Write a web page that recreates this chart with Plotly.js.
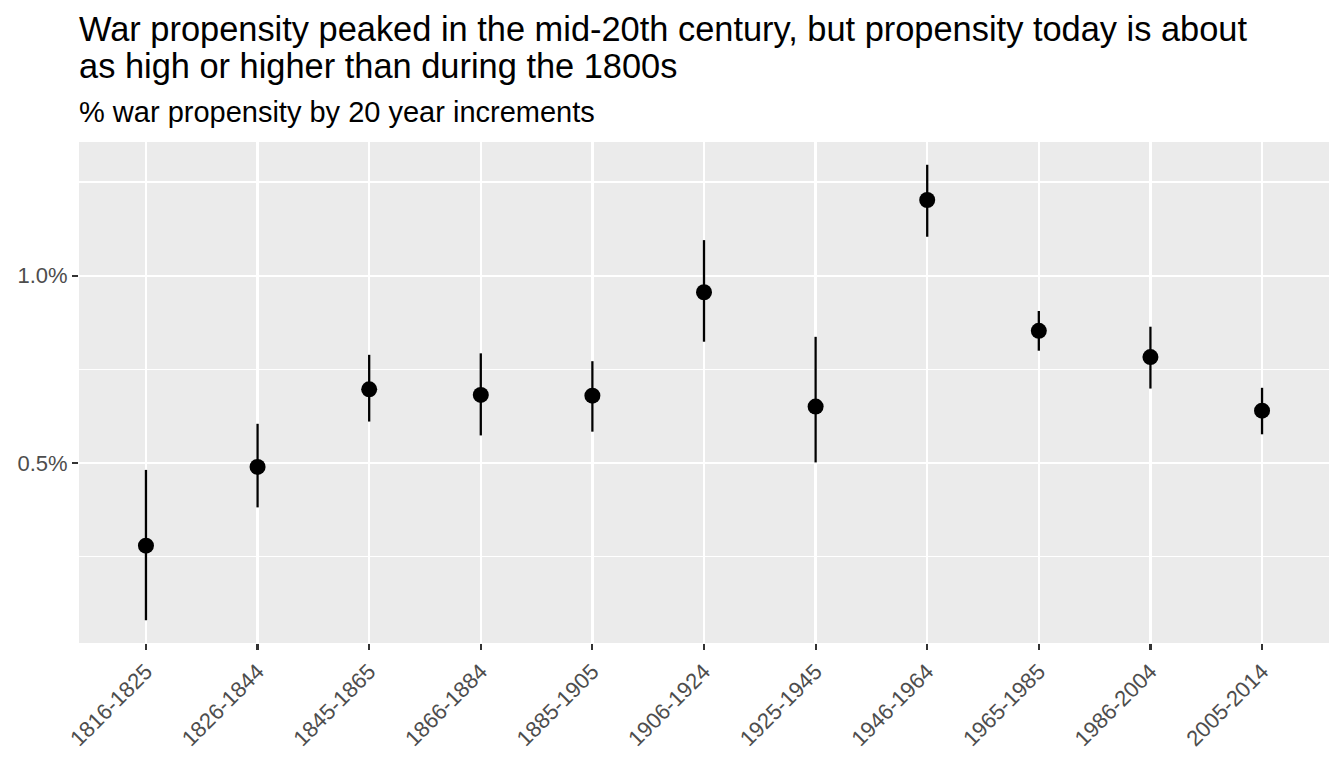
<!DOCTYPE html>
<html>
<head>
<meta charset="utf-8">
<script src="https://cdn.plot.ly/plotly-3.0.1.min.js"></script>
<style>
  html, body { margin: 0; padding: 0; background: #ffffff; }
  #chart { width: 1344px; height: 768px; }
</style>
</head>
<body>
<div id="chart"></div>
<script>
// ----------------------------- Data ------------------------------------------
var periods = ["1816-1825", "1826-1844", "1845-1865", "1866-1884", "1885-1905",
               "1906-1924", "1925-1945", "1946-1964", "1965-1985", "1986-2004",
               "2005-2014"];
// war propensity, in percent
var propensity = [0.280, 0.490, 0.697, 0.682, 0.680, 0.956, 0.651, 1.202, 0.853, 0.783, 0.640];
var lower      = [0.081, 0.382, 0.611, 0.574, 0.584, 0.824, 0.502, 1.104, 0.800, 0.699, 0.577];
var upper      = [0.482, 0.605, 0.789, 0.793, 0.772, 1.095, 0.837, 1.296, 0.906, 0.864, 0.701];
var yTicks = [0.5, 1.0];
var yMinor = [0.25, 0.75, 1.25];
var titleLines = ["War propensity peaked in the mid-20th century, but propensity today is about",
                  "as high or higher than during the 1800s"];
var subtitle = "% war propensity by 20 year increments";
// =============================================================================

var base = "'Liberation Sans', Arial, sans-serif";
var W = 1344, H = 768;
var M = { l: 79, r: 15, t: 142, b: 125 };
var plotH = H - M.t - M.b;

// pixel row (from top of page) -> paper y
function paperY(px) {
  return 1 + (M.t - px) / plotH;
}

// ggplot style 5% expansion of the y range
var lo = Math.min.apply(null, lower);
var hi = Math.max.apply(null, upper);
var pad = (hi - lo) * 0.05;

var errPlus = [], errMinus = [];
for (var i = 0; i < propensity.length; i++) {
  errPlus.push(upper[i] - propensity[i]);
  errMinus.push(propensity[i] - lower[i]);
}

var yText = yTicks.map(function (v) { return v.toFixed(1) + "%"; });

var data = [{
  x: periods,
  y: propensity,
  type: "scatter",
  mode: "markers",
  marker: { color: "#000000", size: 16 },
  error_y: {
    type: "data",
    symmetric: false,
    array: errPlus,
    arrayminus: errMinus,
    color: "#000000",
    thickness: 2.3,
    width: 0
  },
  showlegend: false,
  hoverinfo: "x+y"
}];

// ----------------------- Title and subtitle ----------------------------------
function textLine(txt, bottomPx, size) {
  return {
    text: txt,
    xref: "paper",
    yref: "paper",
    x: 0,
    y: paperY(bottomPx),
    xanchor: "left",
    yanchor: "bottom",
    xshift: -1,
    showarrow: false,
    borderpad: 0,
    font: { family: base, size: size, color: "#000000" }
  };
}
var annotations = [
  textLine(titleLines[0], 49, 34.4),
  textLine(titleLines[1], 86, 34.4),
  textLine(subtitle, 129, 29)
];
// =============================================================================

var layout = {
  width: W,
  height: H,
  paper_bgcolor: "#ffffff",
  plot_bgcolor: "#EBEBEB",
  font: { family: base, color: "#000000" },
  margin: M,
  annotations: annotations,
  xaxis: {
    type: "category",
    range: [-0.6, periods.length - 0.4],
    showgrid: true,
    gridcolor: "#ffffff",
    gridwidth: 2.4,
    zeroline: false,
    showline: false,
    ticks: "outside",
    ticklen: 6,
    tickwidth: 2.2,
    tickcolor: "#333333",
    tickangle: -45,
    tickfont: { family: base, size: 22, color: "#4D4D4D" }
  },
  yaxis: {
    range: [lo - pad, hi + pad],
    tickvals: yTicks,
    ticktext: yText,
    showgrid: true,
    gridcolor: "#ffffff",
    gridwidth: 2.4,
    zeroline: false,
    showline: false,
    ticks: "outside",
    ticklen: 6,
    tickwidth: 2.2,
    tickcolor: "#333333",
    tickfont: { family: base, size: 22, color: "#4D4D4D" },
    minor: {
      tickvals: yMinor,
      showgrid: true,
      gridcolor: "#ffffff",
      gridwidth: 1.2,
      ticks: ""
    }
  }
};

Plotly.newPlot("chart", data, layout, { displayModeBar: false, staticPlot: true });
</script>
</body>
</html>
